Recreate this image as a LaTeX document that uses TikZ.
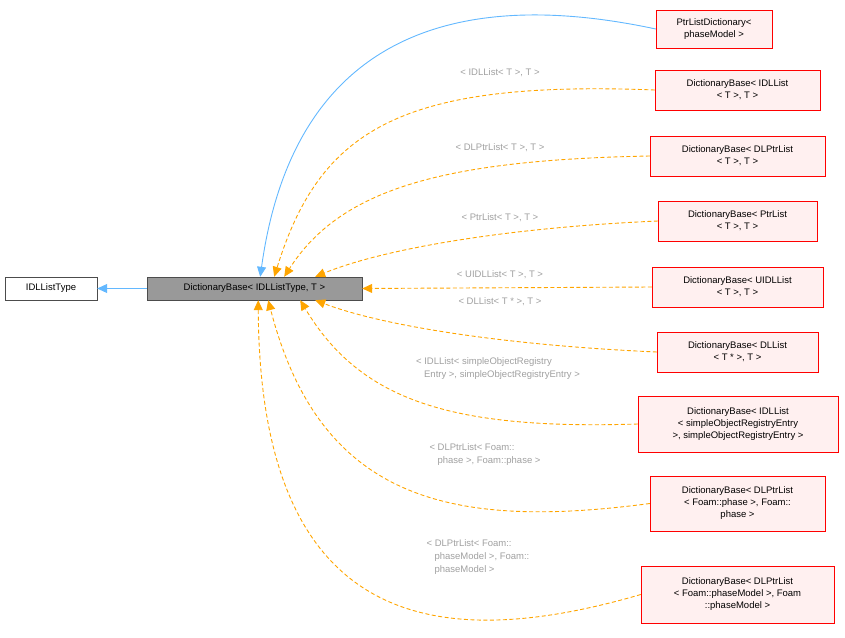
\documentclass[tikz,border=0pt]{standalone}
\usepackage{fontspec}
\setmainfont{Liberation Sans}
\usetikzlibrary{positioning,arrows.meta}
\definecolor{inhblue}{HTML}{63B8FF}
\definecolor{tmplorange}{HTML}{FFA500}
\definecolor{lblgray}{HTML}{A0A0A0}
\definecolor{boxfill}{HTML}{FFF0F0}
\tikzset{
  cls/.style={draw=red,fill=boxfill,align=center,font=\fontsize{9.5}{12}\selectfont,inner sep=2pt,minimum height=40pt},
  inh/.style={draw=inhblue,line width=0.9pt,-{Triangle[length=10pt,width=9pt]}},
  tmpl/.style={draw=tmplorange,line width=0.9pt,dash pattern=on 4pt off 2.5pt,-{Triangle[length=10pt,width=9pt]}},
  lbl/.style={text=lblgray,font=\fontsize{9.5}{13}\selectfont,align=left}
}
\begin{document}
\begin{tikzpicture}[x=1pt,y=-1pt]
  \useasboundingbox (0,0) rectangle (845,637);
  % base classes
  \node[draw=black!70,fill=white,minimum width=92pt,minimum height=23pt,inner sep=1pt,font=\fontsize{9.5}{12}\selectfont] (idl) at (51,288.5) {IDLListType};
  \node[draw=black!70,fill=black!40,minimum width=215pt,minimum height=23pt,inner sep=1pt,font=\fontsize{9.5}{12}\selectfont] (base) at (254.5,288.5) {DictionaryBase< IDLListType, T >};
  \draw[inh] (base) -- (idl);

  % derived classes
  \node[cls,minimum width=116pt,minimum height=38pt] (ptrdict) at (714,29) {PtrListDictionary<\\phaseModel >};
  \node[cls,minimum width=165pt] (dbidl) at (737.5,90) {DictionaryBase< IDLList\\< T >, T >};
  \node[cls,minimum width=175pt] (dbdlptr) at (737.5,156) {DictionaryBase< DLPtrList\\< T >, T >};
  \node[cls,minimum width=159pt] (dbptr) at (737.5,221) {DictionaryBase< PtrList\\< T >, T >};
  \node[cls,minimum width=171pt] (dbuidl) at (737.5,287) {DictionaryBase< UIDLList\\< T >, T >};
  \node[cls,minimum width=161pt] (dbdl) at (737.5,352) {DictionaryBase< DLList\\< T * >, T >};
  \node[cls,minimum width=200pt,minimum height=56pt] (dbsor) at (738,424) {DictionaryBase< IDLList\\< simpleObjectRegistryEntry\\ >, simpleObjectRegistryEntry >};
  \node[cls,minimum width=175pt,minimum height=55pt] (dbphase) at (737.5,503.5) {DictionaryBase< DLPtrList\\< Foam::phase >, Foam::\\phase >};
  \node[cls,minimum width=193pt,minimum height=57pt] (dbpm) at (737.5,594.5) {DictionaryBase< DLPtrList\\< Foam::phaseModel >, Foam\\::phaseModel >};

  % edges
  \draw[inh] (ptrdict.west) .. controls (520,0) and (300,-10) .. ([xshift=-102pt]base.north east);
  \draw[tmpl] (dbidl.west) .. controls (400,80) and (320,130) .. ([xshift=-88pt]base.north east);
  \draw[tmpl] (dbdlptr.west) .. controls (440,160) and (340,190) .. ([xshift=-78pt]base.north east);
  \draw[tmpl] (dbptr.west) .. controls (500,228) and (380,250) .. ([xshift=-47pt]base.north east);
  \draw[tmpl] (dbuidl.west) -- (base.east);
  \draw[tmpl] (dbdl.west) .. controls (500,345) and (380,325) .. ([xshift=-47pt]base.south east);
  \draw[tmpl] (dbsor.west) .. controls (450,430) and (360,400) .. ([xshift=-62pt]base.south east);
  \draw[tmpl] (dbphase.west) .. controls (450,530) and (320,500) .. ([xshift=-94pt]base.south east);
  \draw[tmpl] (dbpm.west) .. controls (450,650) and (260,640) .. ([xshift=-104pt]base.south east);

  % labels
  \node[lbl] (l1) at (500,73) {< IDLList< T >, T >};
  \node[lbl] (l2) at (500,148) {< DLPtrList< T >, T >};
  \node[lbl] (l3) at (500,218) {< PtrList< T >, T >};
  \node[lbl] (l4) at (500,275) {< UIDLList< T >, T >};
  \node[lbl] (l5) at (500,302) {< DLList< T * >, T >};
  \node[lbl] (l6) at (498,369) {< IDLList< simpleObjectRegistry\\\hspace*{8pt}Entry >, simpleObjectRegistryEntry >};
  \node[lbl] (l7) at (485,455) {< DLPtrList< Foam::\\\hspace*{8pt}phase >, Foam::phase >};
  \node[lbl] (l8) at (478,557) {< DLPtrList< Foam::\\\hspace*{8pt}phaseModel >, Foam::\\\hspace*{8pt}phaseModel >};
\end{tikzpicture}
\end{document}
